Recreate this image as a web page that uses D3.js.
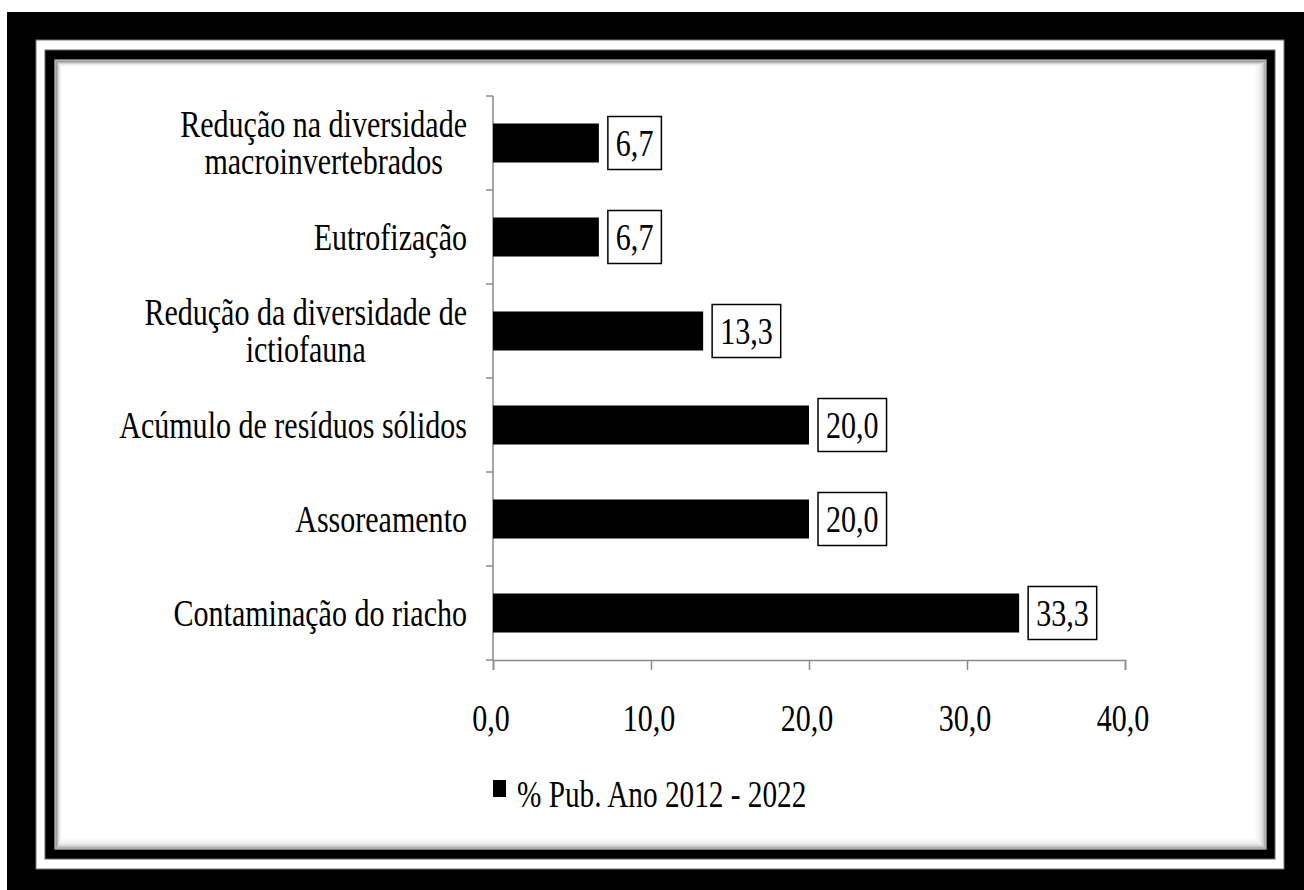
<!DOCTYPE html>
<html>
<head>
<meta charset="utf-8">
<script src="https://cdn.jsdelivr.net/npm/d3@7"></script>
<style>
  html, body { margin: 0; padding: 0; background: #fff; }
  svg { display: block; }
  text { font-family: "Liberation Serif", "Times New Roman", serif; fill: #000; }
</style>
</head>
<body>
<svg id="chart" width="1304" height="890"></svg>
<script>
// chart data
const categoryLines = [
  ["Redução na diversidade", "macroinvertebrados"],
  ["Eutrofização"],
  ["Redução da diversidade de", "ictiofauna"],
  ["Acúmulo de resíduos sólidos"],
  ["Assoreamento"],
  ["Contaminação do riacho"]
];
const values = [6.7, 6.7, 13.3, 20.0, 20.0, 33.3];
const xTicks = [0, 10, 20, 30, 40];
const seriesName = "% Pub. Ano 2012 - 2022";

const SX = 0.77;      // text is drawn horizontally condensed
const FS = 39;
const fmt = v => d3.format(".1f")(v).replace(".", ",");

const svg = d3.select("#chart");

// frame
svg.append("rect").attr("x", 7).attr("y", 12).attr("width", 1297).attr("height", 878).attr("fill", "#000");
svg.append("rect").attr("x", 36).attr("y", 40).attr("width", 1248).attr("height", 829)
  .attr("fill", "#fff").attr("stroke", "#777").attr("stroke-width", 1);
svg.append("rect").attr("x", 45).attr("y", 50).attr("width", 1230).attr("height", 809)
  .attr("fill", "#000").attr("stroke", "#666").attr("stroke-width", 1);
svg.append("rect").attr("x", 55).attr("y", 60).attr("width", 1211).attr("height", 789)
  .attr("fill", "#fff").attr("stroke", "#999").attr("stroke-width", 1.5);

// inset shadow on the panel (a bit heavier on the right and bottom)
for (let i = 0; i < 10; i++) {
  svg.append("rect")
    .attr("x", 56.5 + i * 0.5).attr("y", 61.5 + i * 0.5)
    .attr("width", 1208 - i * 1.5).attr("height", 786 - i * 1.5)
    .attr("fill", "none")
    .attr("stroke", "#000")
    .attr("stroke-opacity", 0.3 * Math.pow(0.72, i))
    .attr("stroke-width", 1);
}

const margin = { left: 493, top: 96, right: 1125, bottom: 660 };

const y = d3.scaleBand()
  .domain(d3.range(values.length))
  .range([margin.top, margin.bottom])
  .padding(0);

const x = d3.scaleLinear()
  .domain([0, 40])
  .range([margin.left, margin.right]);

const axisColor = "#8a8a8a";

// y axis line + ticks at band boundaries
const g = svg.append("g");
g.append("line")
  .attr("x1", margin.left).attr("x2", margin.left)
  .attr("y1", margin.top).attr("y2", margin.bottom)
  .attr("stroke", axisColor).attr("stroke-width", 1.5);
const boundaries = d3.range(values.length + 1).map(i => i < values.length ? y(i) : y(values.length - 1) + y.bandwidth());
g.selectAll(".ytick").data(boundaries).join("line")
  .attr("x1", margin.left - 7).attr("x2", margin.left)
  .attr("y1", d => d).attr("y2", d => d)
  .attr("stroke", axisColor).attr("stroke-width", 1.5);

// x axis
const xAxis = svg.append("g")
  .attr("transform", `translate(0,${margin.bottom})`)
  .call(d3.axisBottom(x).tickValues(xTicks).tickSize(10).tickFormat(""));
xAxis.select(".domain").attr("stroke", axisColor).attr("stroke-width", 1.5);
xAxis.selectAll(".tick line").attr("stroke", axisColor).attr("stroke-width", 1.5);

// x tick labels
svg.selectAll(".xlab").data(xTicks).join("g")
  .attr("transform", d => `translate(${x(d) - 2},731)`)
  .append("text")
  .attr("transform", `scale(${SX},1)`)
  .attr("text-anchor", "middle")
  .attr("font-size", FS)
  .text(d => fmt(d));

// bars
const barH = 39;
svg.selectAll(".bar").data(values).join("rect")
  .attr("x", x(0))
  .attr("y", (d, i) => y(i) + (y.bandwidth() - barH) / 2)
  .attr("width", d => x(d) - x(0))
  .attr("height", barH)
  .attr("fill", "#000");

// value labels in boxes
values.forEach((v, i) => {
  const cy = y(i) + y.bandwidth() / 2;
  const lg = svg.append("g").attr("transform", `translate(${x(v) + 9},${cy})`);
  const box = lg.append("rect");
  const t = lg.append("g").attr("transform", "translate(8,13)")
    .append("text")
    .attr("transform", `scale(${SX},1)`)
    .attr("font-size", FS)
    .text(fmt(v));
  const w = t.node().getComputedTextLength() * SX;
  box.attr("x", 0).attr("y", -26.5).attr("width", w + 16).attr("height", 53)
    .attr("fill", "#fff").attr("stroke", "#000").attr("stroke-width", 1.5);
});

// category labels, lines centred on each other, block right-aligned
categoryLines.forEach((lines, i) => {
  const cy = y(i) + y.bandwidth() / 2;
  const lh = 37;
  const base = cy + 13 - (lines.length - 1) * lh / 2;
  const lg = svg.append("g").attr("transform", `translate(467,0)`);
  const inner = lg.append("g").attr("transform", `scale(${SX},1)`);
  const texts = lines.map((s, k) => inner.append("text")
    .attr("y", base + k * lh)
    .attr("font-size", FS)
    .attr("text-anchor", "middle")
    .text(s));
  const maxW = d3.max(texts, t => t.node().getComputedTextLength());
  texts.forEach(t => t.attr("x", -maxW / 2));
});

// legend
const leg = svg.append("g").attr("transform", "translate(493,780)");
leg.append("rect").attr("width", 13).attr("height", 17).attr("fill", "#000");
leg.append("g").attr("transform", "translate(24,27)")
  .append("text")
  .attr("transform", `scale(${SX},1)`)
  .attr("font-size", FS - 1)
  .text(seriesName);
</script>
</body>
</html>
